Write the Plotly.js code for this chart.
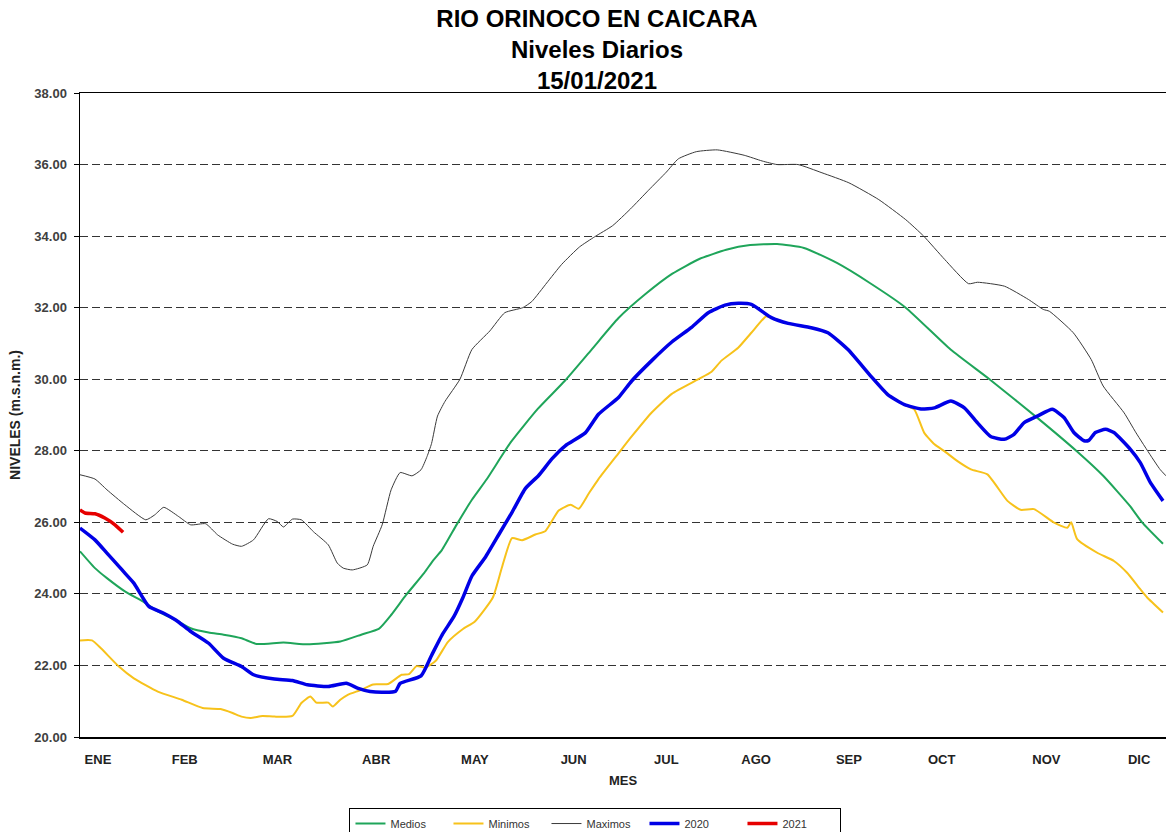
<!DOCTYPE html>
<html>
<head>
<meta charset="utf-8">
<script src="https://cdn.plot.ly/plotly-3.0.1.min.js"></script>
<style>
html,body{margin:0;padding:0;background:#fff;}
#chart{width:1166px;height:832px;}
</style>
</head>
<body>
<div id="chart"></div>
<script>
// ---- Tick labels / axis values ----
const meses = ['ENE','FEB','MAR','ABR','MAY','JUN','JUL','AGO','SEP','OCT','NOV','DIC'];
const mesEtiquetaDia = [6, 35, 66, 99, 132, 165, 196, 226, 257, 288, 323, 354];
const marcasDia = [0,15,30,45,60,75,90,105,120,135,150,165,180,195,210,225,240,255,270,285,300,315,330,345,360];
const nivelesTicks = [20,22,24,26,28,30,32,34,36,38];

// ---- Medios ----
const mediosDia = [0,5,9,15,21,26,32,37,43,48,54,59,68,76,87,94,100,104,109,115,118,121,126,131,136,144,153,162,171,180,189,198,207,216,224,233,242,253,264,276,291,304,320,333,342,351,355,362];
const mediosNivel = [25.19,24.72,24.44,24.07,23.79,23.51,23.27,23.04,22.92,22.86,22.76,22.60,22.64,22.59,22.67,22.86,23.03,23.41,23.97,24.58,24.93,25.23,25.95,26.63,27.21,28.24,29.17,29.95,30.83,31.71,32.38,32.95,33.36,33.62,33.75,33.78,33.67,33.25,32.69,32.00,30.83,30.00,28.92,28.00,27.30,26.45,26.00,25.40];

// ---- Minimos ----
const minimosDia = [0,4,7,13,18,26,34,41,47,51,54,57,61,65,71,74,77,79,83,84.5,87,89.5,94,98,103,107.5,110,112.5,115.5,119,123,128,132,138,141,144.4,147.8,152.2,155.6,160,164,166.7,170,173.3,180,184.4,191.1,197.8,206.7,211.1,214.4,220,224.4,229.4,231.1,236.7,244.4,250,256.7,264.4,270,275.6,278.9,282.2,285.6,288.9,293.3,297.8,303.3,310,314.4,318.9,325.6,330,331.3,333.3,340,345.6,350,354.4,356.7,362];
const minimosNivel = [22.70,22.70,22.48,21.97,21.64,21.27,21.04,20.81,20.78,20.67,20.57,20.53,20.59,20.57,20.59,20.95,21.13,20.96,20.96,20.85,21.04,21.18,21.32,21.47,21.48,21.74,21.76,21.98,21.94,22.14,22.66,23.02,23.23,23.90,24.73,25.56,25.50,25.66,25.76,26.33,26.49,26.38,26.80,27.21,27.93,28.40,29.07,29.59,30.00,30.21,30.52,30.88,31.30,31.76,31.72,31.56,31.44,31.30,30.83,30.08,29.57,29.29,29.15,28.50,28.18,27.99,27.71,27.48,27.34,26.60,26.35,26.37,25.99,25.85,26.00,25.53,25.15,24.92,24.59,24.13,23.90,23.48];

// ---- Maximos ----
const maximosDia = [0,5,9,15,22,25,28,33,37,42,46,51,54,58,63,66,68,71,74,78,83,86,88,91,96,98,101,104,107,111,114,116,117.5,119.5,122,127,131,137,142,148,151,156,161,167,172,178,184,190,196,200,206,213,222,228,233,240,248,257,267,276,282,289,297,300,309,317,322,324,332,338,342,349,353,358,361,363];
const maximosNivel = [27.33,27.21,26.91,26.49,26.07,26.21,26.42,26.16,25.93,25.96,25.65,25.39,25.33,25.51,26.10,26.02,25.87,26.09,26.07,25.74,25.37,24.86,24.72,24.67,24.81,25.33,25.93,26.91,27.39,27.30,27.47,27.84,28.20,28.97,29.38,30.00,30.83,31.35,31.86,32.00,32.17,32.69,33.21,33.70,33.98,34.29,34.76,35.28,35.79,36.16,36.36,36.41,36.26,36.10,36.00,36.00,35.77,35.49,35.02,34.46,34.00,33.35,32.67,32.71,32.60,32.23,31.95,31.90,31.30,30.55,29.81,29.06,28.50,27.85,27.48,27.30];

// ---- 2020 ----
const a2020Dia = [0,5,9,13,15,18,23,28,32,37,43,48,54,58,65,71,76,83,89,93,97,102,105.5,107,114,117.5,121,125,128,131,135.6,140,144.4,148.9,153.3,157.8,162.2,168.9,173.3,180,184.4,191.1,197.8,204.4,210,215.6,220,224.4,231.1,236.7,244.4,250,256.7,264.4,270,275.6,281.1,285.6,291.1,295.6,300,304.4,308.9,312.2,315.6,320,325,328.9,332.2,335.6,337.2,339.4,342.8,345.6,351.1,354.4,357.8,362];
const a2020Nivel = [25.84,25.51,25.14,24.77,24.58,24.30,23.65,23.46,23.27,22.95,22.62,22.20,21.97,21.74,21.62,21.58,21.46,21.41,21.50,21.36,21.27,21.25,21.28,21.50,21.71,22.28,22.85,23.37,23.90,24.50,25.04,25.66,26.28,26.95,27.31,27.78,28.14,28.50,29.02,29.49,29.95,30.52,31.04,31.45,31.86,32.07,32.12,32.09,31.72,31.56,31.44,31.30,30.83,30.08,29.57,29.29,29.17,29.20,29.39,29.20,28.78,28.40,28.32,28.46,28.79,28.97,29.16,28.93,28.51,28.28,28.29,28.51,28.60,28.51,28.04,27.67,27.11,26.60];

// ---- 2021 ----
const a2021Dia = [0,1.7,5,8.3,11.7,14.4];
const a2021Nivel = [26.35,26.26,26.24,26.12,25.93,25.72];

const FONT = 'Liberation Sans, Arial, sans-serif';

function serie(nombre, dias, niveles, color, ancho) {
  return {
    type: 'scatter', mode: 'lines', name: nombre,
    x: dias, y: niveles,
    line: {color: color, width: ancho, shape: 'spline', smoothing: 0.5},
    hoverinfo: 'x+y'
  };
}

const data = [
  serie('Medios', mediosDia, mediosNivel, '#1fa55a', 2),
  serie('Minimos', minimosDia, minimosNivel, '#f7c21b', 2),
  serie('Maximos', maximosDia, maximosNivel, '#3a3a3a', 1),
  serie('2020', a2020Dia, a2020Nivel, '#0000e6', 3.5),
  serie('2021', a2021Dia, a2021Nivel, '#e60000', 3.5)
];

const xRango = [0, 363];

const layout = {
  width: 1166, height: 832,
  paper_bgcolor: '#ffffff', plot_bgcolor: '#ffffff',
  margin: {l: 80, r: 0, t: 93, b: 95, pad: 0, autoexpand: false},
  font: {family: FONT, color: '#222'},
  title: {
    text: 'RIO ORINOCO EN CAICARA<br>Niveles Diarios<br>15/01/2021',
    font: {family: FONT, size: 24, color: '#000', weight: 'bold'},
    xref: 'container', x: 0.512, xanchor: 'center',
    yref: 'container', y: 1, yanchor: 'top', pad: {t: 27}
  },
  showlegend: true,
  legend: {
    orientation: 'h', xref: 'container', x: 0.5107, xanchor: 'center',
    yref: 'container', y: 0.0288, yanchor: 'top',
    bordercolor: '#000', borderwidth: 1, bgcolor: '#fff',
    font: {family: FONT, size: 11, color: '#333'},
    traceorder: 'normal', itemwidth: 30,
    entrywidth: 53, entrywidthmode: 'pixels'
  },
  xaxis: {
    range: xRango, fixedrange: true, automargin: false,
    tickmode: 'array', tickvals: mesEtiquetaDia, ticktext: meses,
    ticks: '', ticklabelstandoff: 10,
    tickfont: {family: FONT, size: 13, color: '#222', weight: 'bold'},
    showline: true, linecolor: '#000', linewidth: 1.5, mirror: true,
    showgrid: false, zeroline: false,
    title: {text: 'MES', font: {family: FONT, size: 13, color: '#222', weight: 'bold'}, standoff: 10}
  },
  xaxis2: {
    overlaying: 'x', anchor: 'y', side: 'bottom', range: xRango, fixedrange: true, automargin: false,
    tickmode: 'array', tickvals: marcasDia, ticks: 'outside', ticklen: 5, tickwidth: 1, tickcolor: '#000',
    showticklabels: false, showline: false, showgrid: false, zeroline: false
  },
  xaxis3: {
    overlaying: 'x', anchor: 'y', side: 'bottom', range: xRango, fixedrange: true, automargin: false,
    tickmode: 'array', tickvals: marcasDia, ticks: 'inside', ticklen: 5, tickwidth: 1, tickcolor: '#000',
    showticklabels: false, showline: false, showgrid: false, zeroline: false
  },
  yaxis: {
    range: [20, 38], fixedrange: true, automargin: false,
    tickmode: 'array', tickvals: nivelesTicks, tickformat: '.2f',
    ticks: 'outside', ticklen: 5, tickcolor: '#000', ticklabelstandoff: 4,
    tickfont: {family: FONT, size: 13, color: '#404040', weight: 'bold'},
    showline: true, linecolor: '#000', linewidth: 1.5,
    showgrid: true, gridcolor: '#333', gridwidth: 1, griddash: '8px,4px',
    zeroline: false,
    title: {text: 'NIVELES (m.s.n.m.)', font: {family: FONT, size: 14, color: '#222', weight: 'bold'}, standoff: 10}
  }
};

Plotly.newPlot('chart', data, layout, {displayModeBar: false, staticPlot: true});
</script>
</body>
</html>
